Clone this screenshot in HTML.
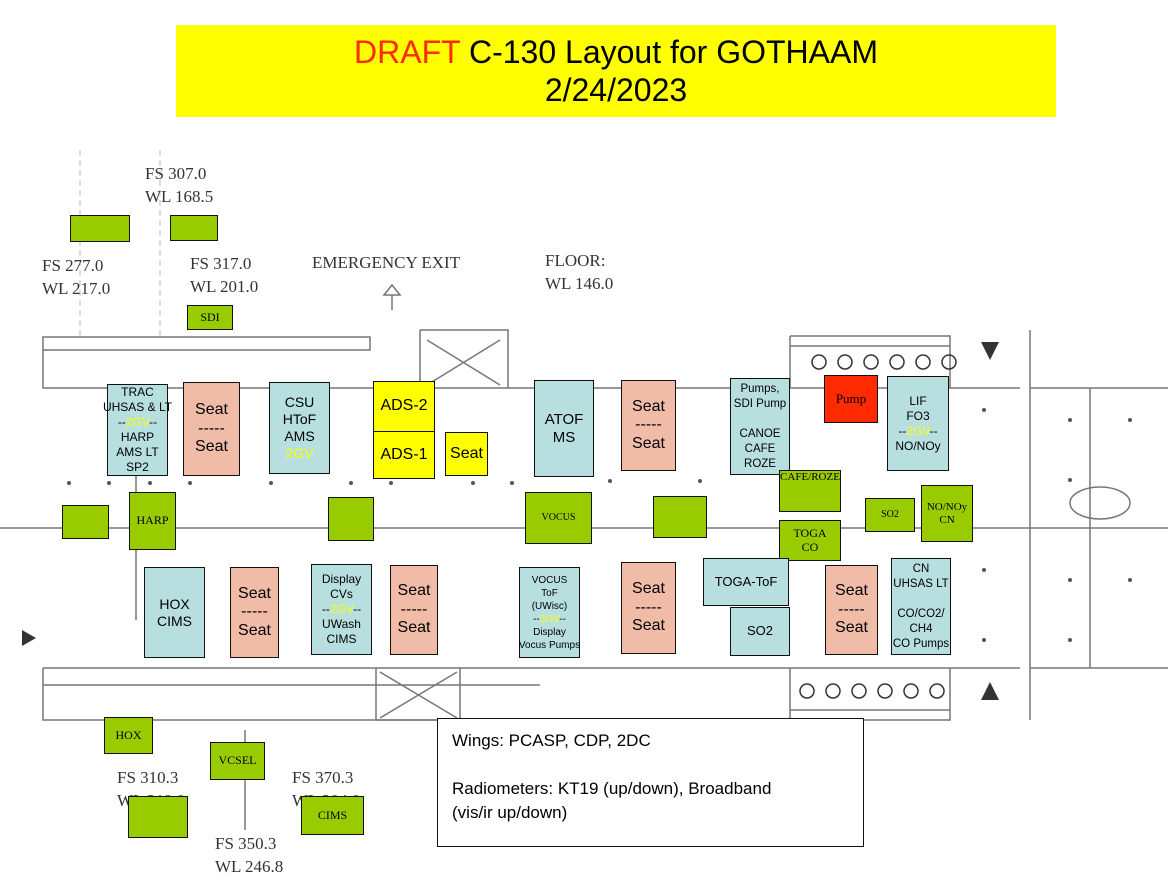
<!DOCTYPE html>
<html><head><meta charset="utf-8"><style>
body{margin:0;width:1168px;height:896px;background:#fff;position:relative;overflow:hidden;font-family:"Liberation Sans",sans-serif}
.b{position:absolute;box-sizing:border-box;border:1.5px solid #111;display:flex;flex-direction:column;justify-content:center;align-items:center;text-align:center;color:#000;line-height:1.15}
.bl{background:#b8dfe0;font-size:13px}
.sk{background:#f0bca8;font-size:16px}
.gr{background:#99cc00;font-family:"Liberation Serif",serif;font-size:12px}
.ye{background:#ffff00;font-size:16px}
.y{color:#ffff00}
.t{position:absolute;font-family:"Liberation Serif",serif;font-size:17px;color:#333;line-height:23px}
svg{position:absolute;left:0;top:0}
</style></head><body>
<svg width="1168" height="896" stroke="#777" fill="none" stroke-width="1.5">
<path d="M43 337H370V350H43Z M43 350V388H1020 M0 528H1168 M43 668H1020 M43 668V720H540 M43 685H540"/>
<path d="M420 330H508V388 M420 330V388 M427 340L500 385M500 340L427 385"/>
<path d="M376 668V720H460V668 M380 672L457 718M457 672L380 718"/>
<path d="M790 336H950V388 M790 336V388 M790 346H950"/>
<path d="M790 668V720H950V668 M790 710H950"/>
<path d="M1030 330V720 M1030 388H1168 M1030 668H1168 M1090 388V668"/>
<ellipse cx="1100" cy="503" rx="30" ry="16"/>
<path d="M136 388V620 M245 730V830 M392 295l-8 0 8-10 8 10-8 0v15"/>
<path d="M80 150V340 M160 150V340" stroke="#bbb" stroke-width="1" stroke-dasharray="6 4"/>
<g stroke="#333" fill="#333">
<circle cx="819" cy="362" r="7" fill="none"/><circle cx="845" cy="362" r="7" fill="none"/><circle cx="871" cy="362" r="7" fill="none"/><circle cx="897" cy="362" r="7" fill="none"/><circle cx="923" cy="362" r="7" fill="none"/><circle cx="949" cy="362" r="7" fill="none"/>
<circle cx="807" cy="691" r="7" fill="none"/><circle cx="833" cy="691" r="7" fill="none"/><circle cx="859" cy="691" r="7" fill="none"/><circle cx="885" cy="691" r="7" fill="none"/><circle cx="911" cy="691" r="7" fill="none"/><circle cx="937" cy="691" r="7" fill="none"/>
<path d="M981 342h18l-9 18z M981 700h18l-9-18z M22 630v16l14-8z" stroke="none"/>
</g>
<g fill="#555" stroke="none">
<circle cx="69" cy="483" r="2"/><circle cx="109" cy="483" r="2"/><circle cx="150" cy="483" r="2"/><circle cx="190" cy="483" r="2"/><circle cx="271" cy="483" r="2"/><circle cx="351" cy="483" r="2"/><circle cx="391" cy="483" r="2"/><circle cx="473" cy="483" r="2"/><circle cx="512" cy="483" r="2"/><circle cx="610" cy="481" r="2"/><circle cx="700" cy="481" r="2"/><circle cx="1070" cy="420" r="2"/><circle cx="1070" cy="480" r="2"/><circle cx="1070" cy="580" r="2"/><circle cx="1070" cy="640" r="2"/><circle cx="1130" cy="420" r="2"/><circle cx="1130" cy="580" r="2"/><circle cx="984" cy="410" r="2"/><circle cx="984" cy="570" r="2"/><circle cx="984" cy="640" r="2"/>
</g>
</svg>
<div class="b ye" style="left:176px;top:25px;width:880px;height:92px;border:none;font-size:32px;line-height:38px"><div><span style="color:#ff2a00">DRAFT</span> C-130 Layout for GOTHAAM</div><div>2/24/2023</div></div>

<div class="t" style="left:145px;top:162px">FS 307.0<br>WL 168.5</div>
<div class="t" style="left:42px;top:254px">FS 277.0<br>WL 217.0</div>
<div class="t" style="left:190px;top:252px">FS 317.0<br>WL 201.0</div>
<div class="t" style="left:312px;top:251px">EMERGENCY EXIT</div>
<div class="t" style="left:545px;top:249px">FLOOR:<br>WL 146.0</div>
<div class="t" style="left:117px;top:766px">FS 310.3<br>WL 219.0</div>
<div class="t" style="left:215px;top:832px">FS 350.3<br>WL 246.8</div>
<div class="t" style="left:292px;top:766px">FS 370.3<br>WL 204.0</div>

<div class="b gr" style="left:70px;top:215px;width:60px;height:27px"></div>
<div class="b gr" style="left:170px;top:215px;width:48px;height:26px"></div>
<div class="b gr" style="left:187px;top:305px;width:46px;height:25px">SDI</div>

<div class="b bl" style="left:107px;top:384px;width:61px;height:92px;font-size:12px;line-height:15px">TRAC<br><span style="white-space:nowrap">UHSAS &amp; LT</span><span>--<span class="y">2GV</span>--</span>HARP<br>AMS LT<br>SP2</div>
<div class="b sk" style="left:183px;top:382px;width:57px;height:94px">Seat<br>-----<br>Seat</div>
<div class="b bl" style="left:269px;top:382px;width:61px;height:92px;font-size:14px;line-height:17px">CSU<br>HToF<br>AMS<br><span class="y">2GV</span></div>
<div class="b ye" style="left:373px;top:381px;width:62px;height:51px">ADS-2</div>
<div class="b ye" style="left:373px;top:431px;width:62px;height:48px">ADS-1</div>
<div class="b ye" style="left:445px;top:432px;width:43px;height:44px">Seat</div>

<div class="b gr" style="left:62px;top:505px;width:47px;height:34px"></div>
<div class="b gr" style="left:129px;top:492px;width:47px;height:58px">HARP</div>
<div class="b gr" style="left:328px;top:497px;width:46px;height:44px"></div>

<div class="b bl" style="left:144px;top:567px;width:61px;height:91px;font-size:14px">HOX<br>CIMS</div>
<div class="b sk" style="left:230px;top:567px;width:49px;height:91px">Seat<br>-----<br>Seat</div>
<div class="b bl" style="left:311px;top:564px;width:61px;height:91px;font-size:12px;line-height:15px">Display<br>CVs<br><span>--<span class="y">2GV</span>--</span>UWash<br>CIMS</div>
<div class="b sk" style="left:390px;top:565px;width:48px;height:90px">Seat<br>-----<br>Seat</div>

<div class="b bl" style="left:534px;top:380px;width:60px;height:97px;font-size:15px">ATOF<br>MS</div>
<div class="b sk" style="left:621px;top:380px;width:55px;height:91px">Seat<br>-----<br>Seat</div>
<div class="b bl" style="left:730px;top:378px;width:60px;height:97px;font-size:11.5px;line-height:15px"><span style="white-space:nowrap">Pumps,<br>SDI Pump</span><br>CANOE<br>CAFE<br>ROZE</div>
<div class="b" style="left:824px;top:375px;width:54px;height:48px;background:#ff2a00;font-family:'Liberation Serif',serif;font-size:13px">Pump</div>
<div class="b bl" style="left:887px;top:376px;width:62px;height:95px;font-size:12px;line-height:15px">LIF<br>FO3<br><span>--<span class="y">2GV</span>--</span>NO/NOy</div>

<div class="b gr" style="left:525px;top:492px;width:67px;height:52px;font-size:10px">VOCUS</div>
<div class="b gr" style="left:653px;top:496px;width:54px;height:42px"></div>
<div class="b gr" style="left:779px;top:470px;width:62px;height:42px;justify-content:flex-start;white-space:nowrap;font-size:11px">CAFE/ROZE</div>
<div class="b gr" style="left:779px;top:520px;width:62px;height:41px">TOGA<br>CO</div>
<div class="b gr" style="left:865px;top:498px;width:50px;height:34px;font-size:10px">SO2</div>
<div class="b gr" style="left:921px;top:485px;width:52px;height:57px;font-size:11px">NO/NOy<br>CN</div>

<div class="b bl" style="left:519px;top:567px;width:61px;height:91px;font-size:10px;line-height:13px">VOCUS<br>ToF<br>(UWisc)<br><span>--<span class="y">2GV</span>--</span>Display<br><span style="white-space:nowrap">Vocus Pumps</span></div>
<div class="b sk" style="left:621px;top:562px;width:55px;height:92px">Seat<br>-----<br>Seat</div>
<div class="b bl" style="left:703px;top:558px;width:86px;height:48px">TOGA-ToF</div>
<div class="b bl" style="left:730px;top:607px;width:60px;height:49px">SO2</div>
<div class="b sk" style="left:825px;top:565px;width:53px;height:90px">Seat<br>-----<br>Seat</div>
<div class="b bl" style="left:891px;top:558px;width:60px;height:97px;font-size:11.5px;line-height:15px"><span>CN</span><span style="white-space:nowrap">UHSAS LT</span><br>CO/CO2/<br>CH4<br><span style="white-space:nowrap">CO Pumps</span></div>

<div class="b gr" style="left:104px;top:717px;width:49px;height:37px">HOX</div>
<div class="b gr" style="left:210px;top:742px;width:55px;height:38px">VCSEL</div>
<div class="b gr" style="left:128px;top:796px;width:60px;height:42px"></div>
<div class="b gr" style="left:301px;top:796px;width:63px;height:39px">CIMS</div>

<div class="b" style="left:437px;top:718px;width:427px;height:129px;background:#fff;align-items:flex-start;justify-content:flex-start;text-align:left;padding:10px 0 0 14px;font-size:17px;line-height:24px">Wings: PCASP, CDP, 2DC<br><br>Radiometers: KT19 (up/down), Broadband<br>(vis/ir up/down)</div>
</body></html>
